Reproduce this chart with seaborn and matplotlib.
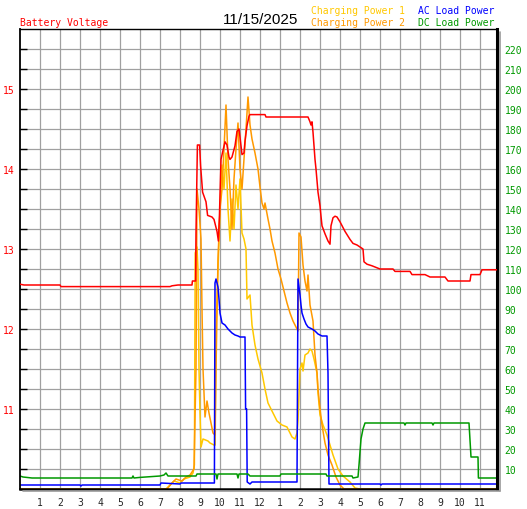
import seaborn as sns
import matplotlib.pyplot as plt
import pandas as pd
from matplotlib.lines import Line2D
from matplotlib.ticker import FixedLocator, NullFormatter

# values: (hour of day, value)
battery_volts = [
    (0, 12.56), (0.2, 12.55), (2.0, 12.55), (2.05, 12.53), (7.5, 12.53), (7.6, 12.54),
    (7.9, 12.55), (8.6, 12.55), (8.62, 12.6), (8.78, 12.6), (8.8, 13.2), (8.87, 14.3),
    (8.98, 14.3), (9.03, 14.04), (9.13, 13.71), (9.3, 13.59), (9.38, 13.42), (9.6, 13.4),
    (9.7, 13.37), (9.85, 13.22), (9.92, 13.1), (9.97, 13.4), (10.05, 14.12), (10.12, 14.2),
    (10.25, 14.34), (10.35, 14.3), (10.45, 14.15), (10.5, 14.12), (10.6, 14.15), (10.75, 14.29),
    (10.85, 14.47), (10.95, 14.5), (11.0, 14.4), (11.1, 14.18), (11.2, 14.2), (11.25, 14.35),
    (11.35, 14.54), (11.45, 14.66), (11.5, 14.68), (12.25, 14.68), (12.3, 14.65), (14.4, 14.65),
    (14.5, 14.59), (14.55, 14.55), (14.6, 14.59), (14.65, 14.46), (14.75, 14.12), (14.8, 14.0),
    (14.9, 13.71), (15.0, 13.54), (15.05, 13.41), (15.1, 13.29), (15.25, 13.19), (15.4, 13.1),
    (15.5, 13.06), (15.55, 13.29), (15.65, 13.39), (15.75, 13.41), (15.85, 13.4), (16.0, 13.34),
    (16.25, 13.22), (16.5, 13.12), (16.65, 13.07), (16.85, 13.05), (17.15, 13.0), (17.2, 12.84),
    (17.35, 12.81), (17.6, 12.79), (18.0, 12.75), (18.65, 12.75), (18.75, 12.72), (19.5, 12.72),
    (19.6, 12.68), (20.25, 12.68), (20.5, 12.65), (21.25, 12.65), (21.4, 12.6), (22.5, 12.6),
    (22.55, 12.68), (23.0, 12.68), (23.1, 12.74), (23.85, 12.74),
]

charging_power_1 = [
    (0, 0), (7.3, 0), (7.5, 2), (7.7, 4), (8.0, 3), (8.2, 5), (8.5, 6), (8.65, 8), (8.72, 12),
    (8.76, 118), (8.85, 121), (8.9, 110), (8.95, 60), (9.0, 38), (9.05, 21), (9.15, 25),
    (9.4, 24), (9.5, 23), (9.7, 22), (9.76, 22), (9.8, 80), (9.9, 110), (10.0, 140), (10.1, 162),
    (10.2, 150), (10.3, 168), (10.4, 140), (10.5, 124), (10.6, 145), (10.7, 130), (10.8, 152),
    (10.9, 140), (11.0, 155), (11.1, 128), (11.2, 125), (11.3, 120), (11.35, 95), (11.5, 97),
    (11.6, 82), (11.75, 72), (11.9, 65), (12.1, 58), (12.25, 50), (12.4, 43), (12.65, 38),
    (12.85, 34), (13.1, 32), (13.35, 31), (13.6, 26), (13.75, 25), (13.85, 28), (13.9, 34),
    (14.0, 60), (14.1, 63), (14.15, 59), (14.25, 67), (14.4, 68), (14.5, 70), (14.6, 69),
    (14.7, 65), (14.85, 58), (14.9, 48), (15.0, 37), (15.15, 32), (15.35, 27), (15.5, 22),
    (15.65, 17), (15.9, 10), (16.15, 6.5), (16.5, 3.5), (16.75, 0.5), (17.0, 0), (23.85, 0),
]

charging_power_2 = [
    (0, 0), (7.35, 0), (7.6, 3), (7.8, 5), (8.1, 4), (8.3, 6), (8.5, 7), (8.7, 10), (8.8, 60),
    (8.85, 150), (8.95, 140), (9.05, 125), (9.1, 90), (9.15, 60), (9.25, 36), (9.35, 44),
    (9.45, 38), (9.55, 33), (9.65, 28), (9.75, 27), (9.8, 60), (9.9, 115), (10.0, 140),
    (10.1, 150), (10.2, 170), (10.3, 192), (10.4, 165), (10.5, 150), (10.6, 130), (10.7, 155),
    (10.8, 170), (10.9, 183), (11.0, 160), (11.1, 150), (11.2, 165), (11.3, 180), (11.4, 196),
    (11.5, 182), (11.6, 175), (11.75, 168), (11.9, 160), (12.0, 151), (12.1, 143), (12.2, 140),
    (12.25, 143), (12.4, 135), (12.5, 130), (12.6, 124), (12.75, 118), (12.9, 110), (13.05, 105),
    (13.2, 99), (13.35, 93), (13.5, 88), (13.65, 84), (13.8, 81), (13.9, 79), (13.95, 128),
    (14.05, 126), (14.15, 112), (14.25, 104), (14.35, 99), (14.4, 107), (14.5, 92), (14.65, 84),
    (14.75, 67), (14.85, 58), (14.9, 50), (15.0, 40), (15.1, 32), (15.25, 23), (15.4, 17),
    (15.6, 12), (15.8, 6), (16.0, 2), (16.2, 0), (23.85, 0),
]

ac_load_power = [
    (0, 2), (3.0, 2), (3.05, 1.5), (3.1, 2), (7.0, 2), (7.05, 3), (8.0, 2.5), (8.05, 3),
    (9.72, 3), (9.75, 103), (9.8, 105), (9.9, 101), (9.95, 95), (10.0, 88), (10.1, 83),
    (10.25, 82), (10.4, 80), (10.6, 78), (10.75, 77), (10.9, 76.5), (11.0, 76), (11.25, 76),
    (11.28, 40), (11.33, 40), (11.36, 3.5), (11.5, 2.5), (11.6, 3.5), (13.85, 3.5), (13.9, 105),
    (14.0, 97), (14.05, 92), (14.1, 88), (14.2, 85), (14.3, 82.5), (14.4, 81), (14.6, 80),
    (14.75, 79), (14.9, 77.5), (15.1, 76.5), (15.35, 76.5), (15.4, 58), (15.45, 2.5),
    (18.0, 2.5), (18.05, 2), (18.1, 2.5), (23.85, 2.5),
]

dc_load_power = [
    (0, 6.5), (0.15, 6), (0.6, 5.5), (5.6, 5.5), (5.65, 6.5), (5.7, 5.5), (6.0, 5.8), (7.0, 6.5),
    (7.2, 7), (7.3, 8), (7.4, 6.5), (8.8, 6.5), (8.85, 7.5), (9.8, 7.5), (9.85, 5), (9.9, 7.5),
    (10.85, 7.5), (10.9, 5.5), (10.95, 7.5), (11.4, 7.5), (11.5, 6.5), (13.0, 6.5), (13.05, 7.5),
    (15.3, 7.5), (15.35, 6.5), (16.6, 6.5), (16.65, 5.5), (16.9, 6), (16.95, 12), (17.05, 25),
    (17.15, 30), (17.25, 33), (19.2, 33), (19.25, 32), (19.3, 33), (20.6, 33), (20.65, 32),
    (20.7, 33), (22.45, 33), (22.55, 16), (22.9, 16), (22.92, 5.5), (23.85, 5.5),
]

hour_ticks = list(range(1, 24))
hour_labels = [str(h) for h in range(1, 12)] + ["12"] + [str(h) for h in range(1, 12)]
volt_labels = [11, 12, 13, 14, 15]
power_labels = list(range(10, 230, 10))

RED, GOLD, ORANGE, BLUE, GREEN = "#ff0000", "#ffc800", "#ff9900", "#0000ff", "#009900"

sns.set_style("white")
plt.rcParams["font.family"] = ["DejaVu Sans Mono"]

W, H = 527, 510
fig = plt.figure(figsize=(W / 100, H / 100), dpi=100)
ax = fig.add_axes([20 / W, 20 / H, 477 / W, 460 / H])
ax2 = ax.twinx()
ax.yaxis.tick_right()
ax2.yaxis.tick_left()

# power series on the base axis, voltage on top of them
for series, color in [(charging_power_1, GOLD), (charging_power_2, ORANGE),
                      (ac_load_power, BLUE), (dc_load_power, GREEN)]:
    df = pd.DataFrame(series, columns=["hour", "watts"])
    sns.lineplot(data=df, x="hour", y="watts", ax=ax, color=color, linewidth=1.1,
                 estimator=None, sort=False)

vdf = pd.DataFrame(battery_volts, columns=["hour", "volts"])
sns.lineplot(data=vdf, x="hour", y="volts", ax=ax2, color=RED, linewidth=1.1,
             estimator=None, sort=False)

ax.set_xlim(0, 23.85)
ax.set_ylim(0, 230)
ax2.set_ylim(10, 15.75)
for a in (ax, ax2):
    a.set_xlabel("")
    a.set_ylabel("")

ax.set_xticks(hour_ticks)
ax.set_xticklabels(hour_labels)
ax.set_yticks(power_labels)
ax.grid(True, color="#a0a0a0", linewidth=0.9)
ax.set_axisbelow(True)
ax.tick_params(axis="x", direction="in", length=4, width=1, color="black", pad=5.5, labelsize=7)
ax.tick_params(axis="y", right=True, left=False, length=0, pad=5.5, labelsize=7, labelcolor=GREEN)

ax2.yaxis.set_major_locator(FixedLocator(volt_labels))
ax2.yaxis.set_minor_locator(FixedLocator([10 + 0.25 * i for i in range(1, 23)]))
ax2.yaxis.set_minor_formatter(NullFormatter())
ax2.tick_params(axis="y", which="both", direction="in", length=5, width=1, color="black",
                pad=4, labelsize=7, labelcolor=RED, right=False, left=True)

for name, sp in ax.spines.items():
    sp.set_color("black")
    sp.set_visible(True)
ax.spines["top"].set_linewidth(1.0)
ax.spines["left"].set_linewidth(1.3)
ax.spines["bottom"].set_linewidth(1.8)
ax.spines["right"].set_linewidth(2.2)
for sp in ax2.spines.values():
    sp.set_visible(False)

# drop shadow along the right and bottom frame
shadow = "#9a9a9a"
fig.add_artist(Line2D([499.5 / W, 499.5 / W], [1 - 33 / H, 1 - 492 / H], color=shadow, lw=1.2))
fig.add_artist(Line2D([23 / W, 500 / W], [1 - 492 / H, 1 - 492 / H], color=shadow, lw=1.2))

fig.text(20 / W, 1 - 23.5 / H, "Battery Voltage", color=RED, fontsize=7, va="center", ha="left")
fig.text(261 / W, 1 - 20.5 / H, "11/15/2025", color="black", fontsize=11, va="center",
         ha="center", family="Liberation Sans")
fig.text(311 / W, 1 - 11.5 / H, "Charging Power 1", color=GOLD, fontsize=7, va="center")
fig.text(311 / W, 1 - 23.5 / H, "Charging Power 2", color=ORANGE, fontsize=7, va="center")
fig.text(418 / W, 1 - 11.5 / H, "AC Load Power", color=BLUE, fontsize=7, va="center")
fig.text(418 / W, 1 - 23.5 / H, "DC Load Power", color=GREEN, fontsize=7, va="center")

fig.savefig("out.png", dpi=100, facecolor="white")
